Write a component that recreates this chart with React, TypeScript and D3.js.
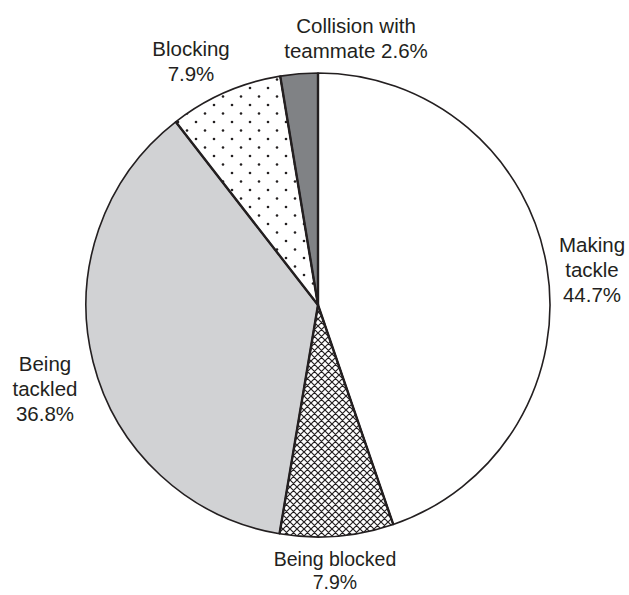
import React from "react";
import * as d3 from "d3";

// Injury mechanism shares (percent), clockwise from 12 o'clock
const categories = ["Making tackle", "Being blocked", "Being tackled", "Blocking", "Collision with teammate"];
const values = [44.7, 7.9, 36.8, 7.9, 2.6];
const labelLines = [
  ["Making", "tackle", "44.7%"],
  ["Being blocked", "7.9%"],
  ["Being", "tackled", "36.8%"],
  ["Blocking", "7.9%"],
  ["Collision with", "teammate 2.6%"],
];

const W = 629;
const H = 595;
const cx = 318;
const cy = 305;
const R = 232;
const INK = "#231f20";

// Label block anchors: centre x, first-line baseline, font size, line step
const labelPos: [number, number, number, number][] = [
  [592, 252, 20.5, 25],
  [335, 566, 19.5, 23],
  [45, 371, 20.5, 25],
  [191, 56, 20.5, 25],
  [356, 33, 20.5, 25],
];
const fills = ["#ffffff", "url(#xhatch)", "#d1d2d4", "url(#dots)", "#808285"];

export default function App() {
  const data = categories.map((c, i) => ({ c, v: values[i] }));
  const pie = d3.pie<{ c: string; v: number }>().value((d) => d.v).sort(null);
  const arcs = pie(data);
  const arc = d3.arc<d3.PieArcDatum<{ c: string; v: number }>>().innerRadius(0).outerRadius(R);

  return (
    <svg width={W} height={H} style={{ position: "absolute", left: 0, top: 0, background: "#fff" }}>
      <defs>
        <pattern id="xhatch" width="7" height="7" patternUnits="userSpaceOnUse">
          <rect width="7" height="7" fill="#fff" />
          <path d="M0,0 L7,7 M7,0 L0,7 M-1,6 L1,8 M6,-1 L8,1" stroke={INK} strokeWidth="1.2" />
        </pattern>
        <pattern id="dots" width="18" height="17" patternUnits="userSpaceOnUse">
          <rect width="18" height="17" fill="#fff" />
          <circle cx="4" cy="4" r="1.3" fill={INK} />
          <circle cx="13" cy="12.5" r="1.3" fill={INK} />
        </pattern>
      </defs>
      <g transform={`translate(${cx},${cy})`}>
        {arcs.map((a, i) => (
          <path key={i} d={arc(a) || ""} fill={fills[i]} stroke={INK} strokeWidth={1.6} strokeLinejoin="round" />
        ))}
        {arcs.map((a, i) => (
          <line
            key={"r" + i}
            x1={0}
            y1={0}
            x2={R * Math.sin(a.startAngle)}
            y2={-R * Math.cos(a.startAngle)}
            stroke={INK}
            strokeWidth={2.4}
          />
        ))}
      </g>
      {labelLines.map((lines, i) => (
        <text
          key={"t" + i}
          x={labelPos[i][0]}
          y={labelPos[i][1]}
          textAnchor="middle"
          fontFamily="Liberation Sans, Arial, sans-serif"
          fontSize={labelPos[i][2]}
          fill={INK}
        >
          {lines.map((l, j) => (
            <tspan key={j} x={labelPos[i][0]} dy={j === 0 ? 0 : labelPos[i][3]}>
              {l}
            </tspan>
          ))}
        </text>
      ))}
    </svg>
  );
}
